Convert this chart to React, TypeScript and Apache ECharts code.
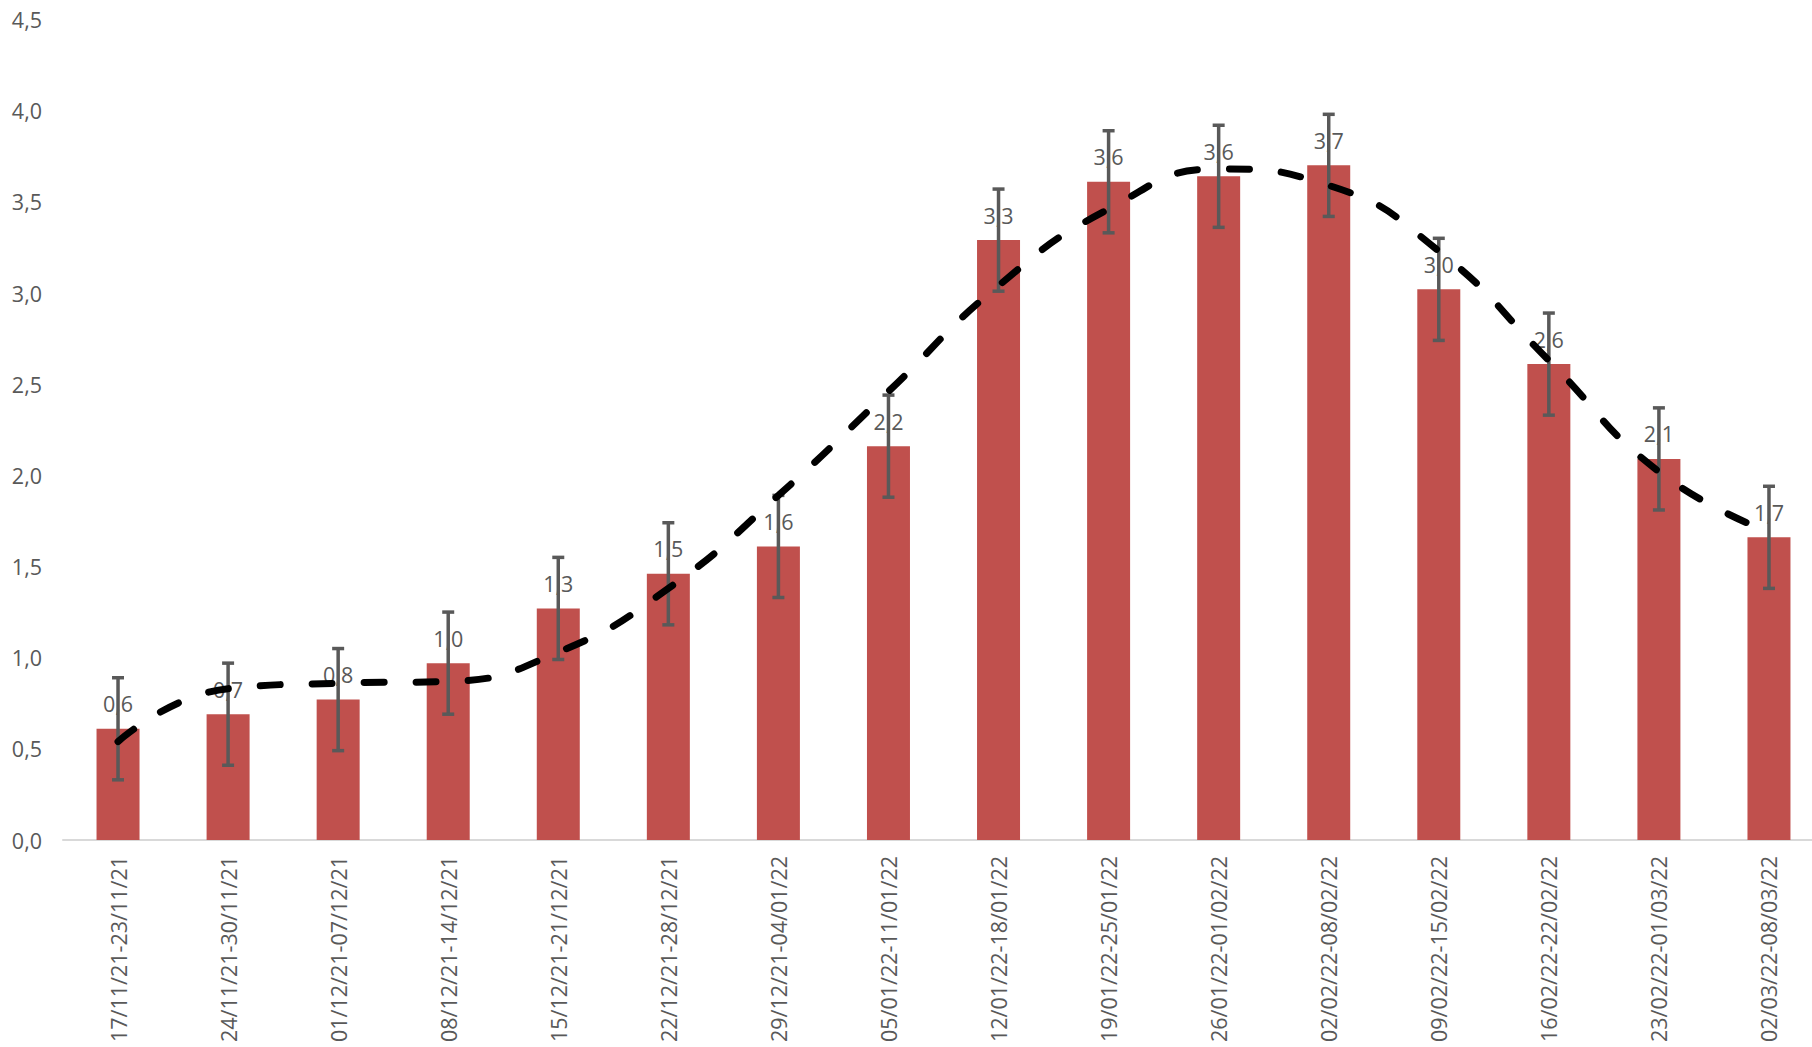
import React, { useEffect, useRef } from "react";
import * as echarts from "echarts";

const categories: string[] = [
  "17/11/21-23/11/21",
  "24/11/21-30/11/21",
  "01/12/21-07/12/21",
  "08/12/21-14/12/21",
  "15/12/21-21/12/21",
  "22/12/21-28/12/21",
  "29/12/21-04/01/22",
  "05/01/22-11/01/22",
  "12/01/22-18/01/22",
  "19/01/22-25/01/22",
  "26/01/22-01/02/22",
  "02/02/22-08/02/22",
  "09/02/22-15/02/22",
  "16/02/22-22/02/22",
  "23/02/22-01/03/22",
  "02/03/22-08/03/22",
];

const barValues: number[] = [0.61, 0.69, 0.77, 0.97, 1.27, 1.46, 1.61, 2.16, 3.29, 3.61, 3.64, 3.7, 3.02, 2.61, 2.09, 1.66];

const errorMargins: number[] = [0.28, 0.28, 0.28, 0.28, 0.28, 0.28, 0.28, 0.28, 0.28, 0.28, 0.28, 0.28, 0.28, 0.28, 0.28, 0.28];

const trendValues: number[] = [0.54, 0.83, 0.86, 0.87, 1.03, 1.38, 1.89, 2.46, 3.04, 3.46, 3.68, 3.59, 3.23, 2.63, 2.02, 1.69];

const yTicks = { min: 0, max: 4.5, interval: 0.5 };

const fmt = (v: number) => v.toFixed(1).replace(".", ",");

export default function App() {
  const ref = useRef<HTMLDivElement>(null);

  useEffect(() => {
    if (!ref.current) return;
    const chart = echarts.init(ref.current, undefined, { renderer: "svg" });
    const font = "Open Sans";
    const errData = barValues.map((v, i) => [i, v - errorMargins[i], v + errorMargins[i]]);

    chart.setOption({
      animation: false,
      backgroundColor: "#ffffff",
      grid: { left: 63, top: 19.5, width: 1761, height: 820.5, containLabel: false },
      xAxis: {
        type: "category",
        data: categories,
        axisLine: { show: true, lineStyle: { color: "#D9D9D9", width: 2 } },
        axisTick: { show: false },
        axisLabel: {
          rotate: 90,
          margin: 16,
          color: "#595959",
          fontSize: 21.5,
          fontFamily: font,
          interval: 0,
        },
        splitLine: { show: false },
      },
      yAxis: {
        type: "value",
        min: yTicks.min,
        max: yTicks.max,
        interval: yTicks.interval,
        axisLine: { show: false },
        axisTick: { show: false },
        splitLine: { show: false },
        axisLabel: {
          color: "#595959",
          fontSize: 21.5,
          fontFamily: font,
          margin: 21,
          formatter: (v: number) => fmt(v),
        },
      },
      series: [
        {
          type: "bar",
          data: barValues,
          barWidth: 43,
          z: 2,
          itemStyle: { color: "#C0504D" },
          label: {
            show: true,
            position: "top",
            distance: 14,
            color: "#595959",
            fontSize: 21.5,
            fontFamily: font,
            formatter: (p: any) => fmt(p.value),
          },
        },
        {
          type: "custom",
          z: 5,
          data: errData,
          renderItem: (params: any, api: any) => {
            const x = api.value(0);
            const lo = api.coord([x, api.value(1)]);
            const hi = api.coord([x, api.value(2)]);
            const cx = lo[0];
            const hw = 6;
            const style = { stroke: "#595959", lineWidth: 3.5 };
            return {
              type: "group",
              children: [
                { type: "line", shape: { x1: cx, y1: lo[1], x2: cx, y2: hi[1] }, style },
                { type: "line", shape: { x1: cx - hw, y1: lo[1], x2: cx + hw, y2: lo[1] }, style },
                { type: "line", shape: { x1: cx - hw, y1: hi[1], x2: cx + hw, y2: hi[1] }, style },
              ],
            };
          },
        },
        {
          type: "line",
          data: trendValues,
          z: 10,
          smooth: 0.5,
          symbol: "none",
          lineStyle: {
            color: "#000000",
            width: 7,
            type: [20, 32],
            cap: "round",
          },
        },
      ],
    });

    return () => chart.dispose();
  }, []);

  return (
    <div
      style={{
        position: "absolute",
        left: 0,
        top: 0,
        width: 1812,
        height: 1047,
        overflow: "hidden",
        background: "#ffffff",
      }}
    >
      <div ref={ref} style={{ width: 1840, height: 1047 }} />
    </div>
  );
}
